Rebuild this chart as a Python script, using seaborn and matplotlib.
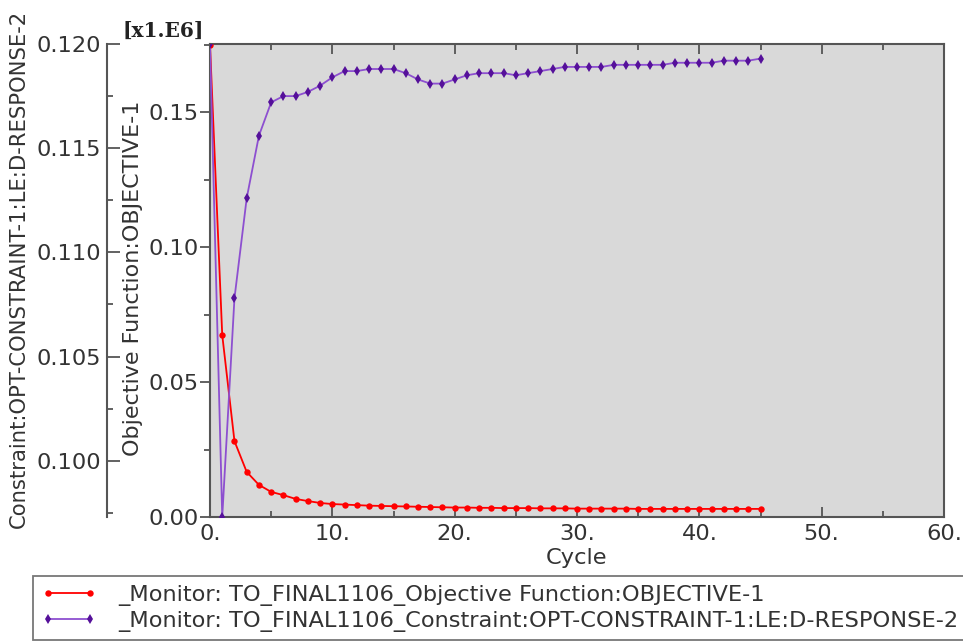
import matplotlib
matplotlib.use("Agg")
import matplotlib.pyplot as plt
from matplotlib.ticker import FuncFormatter, MultipleLocator
import seaborn as sns
import pandas as pd

# Optimisation history: objective (x1.E6) and constraint per design cycle
cycles = list(range(46))
objective = [0.1750, 0.0674, 0.0281, 0.0167, 0.0119, 0.0093, 0.0081, 0.0067,
             0.0059, 0.0052, 0.0048, 0.0046, 0.0044, 0.0042, 0.0041, 0.0040,
             0.0039, 0.0038, 0.0037, 0.0036, 0.0035, 0.0035, 0.0034, 0.0034,
             0.0033, 0.0033, 0.0033, 0.0032, 0.0032, 0.0032, 0.0031, 0.0031,
             0.0031, 0.0031, 0.0031, 0.0030, 0.0030, 0.0030, 0.0030, 0.0030,
             0.0030, 0.0030, 0.0030, 0.0030, 0.0030, 0.0030]
constraint = [0.1200, 0.0973, 0.1078, 0.1126, 0.1156, 0.1172, 0.1175, 0.1175,
              0.1177, 0.1180, 0.1184, 0.1187, 0.1187, 0.1188, 0.1188, 0.1188,
              0.1186, 0.1183, 0.1181, 0.1181, 0.1183, 0.1185, 0.1186, 0.1186,
              0.1186, 0.1185, 0.1186, 0.1187, 0.1188, 0.1189, 0.1189, 0.1189,
              0.1189, 0.1190, 0.1190, 0.1190, 0.1190, 0.1190, 0.1191, 0.1191,
              0.1191, 0.1191, 0.1192, 0.1192, 0.1192, 0.1193]

obj_label = "_Monitor: TO_FINAL1106_Objective Function:OBJECTIVE-1"
con_label = "_Monitor: TO_FINAL1106_Constraint:OPT-CONSTRAINT-1:LE:D-RESPONSE-2"
x_title = "Cycle"
obj_title = "Objective Function:OBJECTIVE-1"
con_title = "Constraint:OPT-CONSTRAINT-1:LE:D-RESPONSE-2"
multiplier = "[x1.E6]"

df = pd.DataFrame({"cycle": cycles, "objective": objective, "constraint": constraint})

sns.set_style("ticks")
plt.rcParams["font.family"] = ["DejaVu Sans"]
FS = 16.2
TXT = "#333333"
SPINE = "#555555"

fig = plt.figure(figsize=(9.63, 6.44), dpi=100)
W, H = 963, 644
L, R, T, B = 210, 944, 44, 517
ax = fig.add_axes([L / W, 1 - B / H, (R - L) / W, (B - T) / H])
ax.set_facecolor("#d9d9d9")

red = "#ff0000"
purple_line = "#8d4fd0"
purple_mark = "#55109a"

sns.lineplot(data=df, x="cycle", y="objective", ax=ax, color=red, lw=1.3,
             marker="o", markersize=4.6, markeredgewidth=0, markerfacecolor=red,
             label=obj_label, legend=False, zorder=3)

ax.set_xlim(0, 60)
ax.set_ylim(0, 0.1752)
ax.xaxis.set_major_locator(MultipleLocator(10))
ax.xaxis.set_minor_locator(MultipleLocator(5))
ax.yaxis.set_major_locator(MultipleLocator(0.05))
ax.yaxis.set_minor_locator(MultipleLocator(0.025))
ax.xaxis.set_major_formatter(FuncFormatter(lambda v, p: f"{v:.0f}."))
ax.yaxis.set_major_formatter(FuncFormatter(lambda v, p: f"{v:.2f}"))
ax.tick_params(axis="x", which="both", direction="in", top=True, bottom=True,
               labelsize=FS, colors=SPINE, labelcolor=TXT, width=1.3, pad=5)
ax.tick_params(axis="x", which="major", length=7)
ax.tick_params(axis="x", which="minor", length=4)
ax.tick_params(axis="y", which="both", direction="out", left=True, right=False,
               labelsize=FS, colors=SPINE, labelcolor=TXT, width=1.3, pad=1)
ax.tick_params(axis="y", which="major", length=7)
ax.tick_params(axis="y", which="minor", length=4)
for s in ax.spines.values():
    s.set_visible(True)
    s.set_color(SPINE)
    s.set_linewidth(1.5)
ax.set_xlabel(x_title, fontsize=FS, color=TXT, labelpad=3)
ax.set_ylabel(obj_title, fontsize=16.0, color=TXT)
ax.yaxis.set_label_coords(-(L - 143) / (R - L), (B - 278) / (B - T))
fig.text(122 / W, 1 - 31 / H, multiplier, fontsize=14.5, color="#222222",
         family="DejaVu Serif", fontweight="semibold", va="center", ha="left")

# Constraint on a second y-axis pushed out to the left
ax2 = ax.twinx()
sns.lineplot(data=df, x="cycle", y="constraint", ax=ax2, color=purple_line, lw=1.3,
             marker="d", markersize=5, markeredgewidth=0, markerfacecolor=purple_mark,
             label=con_label, legend=False, zorder=4)
ax2.set_ylim(0.0973, 0.1200)
ax2.set_xlim(0, 60)
ax2.yaxis.set_label_position("left")
ax2.yaxis.set_ticks_position("left")
ax2.spines["left"].set_position(("axes", -(L - 107) / (R - L)))
for k in ("right", "top", "bottom"):
    ax2.spines[k].set_visible(False)
ax2.spines["left"].set_visible(True)
ax2.spines["left"].set_color(SPINE)
ax2.spines["left"].set_linewidth(1.5)
ax2.yaxis.set_major_locator(MultipleLocator(0.005))
ax2.yaxis.set_minor_locator(MultipleLocator(0.0025))
ax2.yaxis.set_major_formatter(FuncFormatter(lambda v, p: f"{v:.3f}"))
ax2.tick_params(axis="y", which="both", direction="in", labelsize=FS,
                colors=SPINE, labelcolor=TXT, width=1.3, pad=4)
ax2.tick_params(axis="y", which="major", length=9)
ax2.tick_params(axis="y", which="minor", length=4)
ax2.set_ylabel(con_title, fontsize=15.2, color=TXT)
ax2.yaxis.set_label_coords(-(L - 29) / (R - L), (B - 269) / (B - T))

handles = [ax.get_lines()[0], ax2.get_lines()[0]]
leg = fig.legend(handles, [obj_label, con_label], loc="upper left",
                 bbox_to_anchor=(33 / W, 1 - 576 / H), numpoints=2,
                 fontsize=FS, frameon=True, fancybox=False, borderaxespad=0,
                 handlelength=2.45, handletextpad=0.95, labelspacing=0.22,
                 borderpad=0.38)
leg.get_frame().set_edgecolor(SPINE)
leg.get_frame().set_linewidth(1.3)
for t in leg.get_texts():
    t.set_color(TXT)

fig.savefig("out.png", dpi=100)
